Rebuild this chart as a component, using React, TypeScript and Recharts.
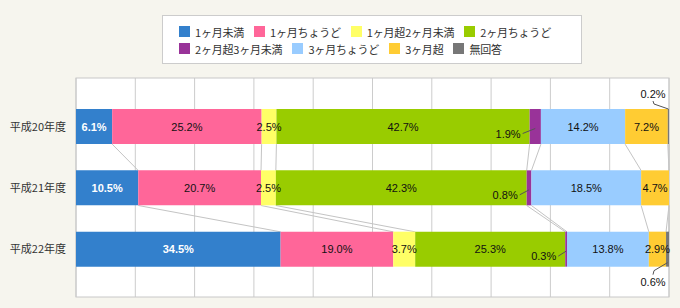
import React from "react";
import {
  BarChart,
  Bar,
  XAxis,
  YAxis,
  CartesianGrid,
  LabelList,
  usePlotArea
} from "recharts";

// 年度
const years = ["平成20年度", "平成21年度", "平成22年度"];

// 系列名
const seriesNames = [
  "1ヶ月未満",
  "1ヶ月ちょうど",
  "1ヶ月超2ヶ月未満",
  "2ヶ月ちょうど",
  "2ヶ月超3ヶ月未満",
  "3ヶ月ちょうど",
  "3ヶ月超",
  "無回答"
];

// 各系列の値 (%)
const under1 = [6.1, 10.5, 34.5];
const just1 = [25.2, 20.7, 19.0];
const over1under2 = [2.5, 2.5, 3.7];
const just2 = [42.7, 42.3, 25.3];
const over2under3 = [1.9, 0.8, 0.3];
const just3 = [14.2, 18.5, 13.8];
const over3 = [7.2, 4.7, 2.9];
const noAnswer = [0.2, 0, 0.6];

const seriesValues = [under1, just1, over1under2, just2, over2under3, just3, over3, noAnswer];
const colors = ["#3380cc", "#ff6699", "#ffff66", "#99cc00", "#993399", "#99ccff", "#ffcc33", "#777777"];

const data = years.map((y, i) => {
  const row: any = { year: y };
  seriesNames.forEach((n, s) => {
    row["s" + s] = seriesValues[s][i];
  });
  return row;
});

const BAR_SIZE = 35;
const PAD_TOP = 18;
const PAD_BOTTOM = 17;
const NUM_FONT = "'Liberation Sans', Arial, sans-serif";
const JP_FONT = "'Noto Sans CJK JP', sans-serif";

function makeLabel(s: number) {
  return (props: any) => {
    const { x, y, width, height, value, index } = props;
    if (!value) return null;
    const text = Number(value).toFixed(1) + "%";
    const cx = x + width / 2;
    const cy = y + height / 2;
    const right = x + width;
    if (s === 4) {
      // 細い紫のセグメント: 左下に引出し線付き
      return (
        <g>
          <line x1={x - 7} y1={cy + 7} x2={cx} y2={cy + 2} stroke="#555" strokeWidth={1} />
          <text x={x - 9} y={cy + 7} textAnchor="end" dominantBaseline="central" fontSize={11} fontFamily={NUM_FONT} fill="#111">
            {text}
          </text>
        </g>
      );
    }
    if (s === 7) {
      if (index === 0) {
        return (
          <g>
            <polyline points={`${right - 16},${y - 8} ${right - 15},${y - 5} ${cx},${y}`} fill="none" stroke="#555" strokeWidth={1} />
            <text x={right - 16} y={y - 15} textAnchor="middle" dominantBaseline="central" fontSize={11} fontFamily={NUM_FONT} fill="#111">
              {text}
            </text>
          </g>
        );
      }
      return (
        <g>
          <polyline points={`${right - 16},${y + height + 8} ${right - 15},${y + height + 4} ${cx},${y + height - 4}`} fill="none" stroke="#555" strokeWidth={1} />
          <text x={right - 16} y={y + height + 15} textAnchor="middle" dominantBaseline="central" fontSize={11} fontFamily={NUM_FONT} fill="#111">
            {text}
          </text>
        </g>
      );
    }
    const white = s === 0;
    return (
      <text
        x={cx}
        y={cy}
        textAnchor="middle"
        dominantBaseline="central"
        fontSize={11}
        fontFamily={NUM_FONT}
        fontWeight={white ? "bold" : "normal"}
        fill={white ? "#fff" : "#111"}
      >
        {text}
      </text>
    );
  };
}

// 区分線と枠
function SeriesLines() {
  const plot: any = usePlotArea();
  if (!plot) return null;
  const k = plot.width / 100;
  const band = (plot.height - PAD_TOP - PAD_BOTTOM) / years.length;
  const top = (i: number) => plot.y + PAD_TOP + i * band + (band - BAR_SIZE) / 2;
  const cum = (i: number, s: number) => {
    let t = 0;
    for (let j = 0; j <= s; j++) t += seriesValues[j][i];
    return Math.min(t, 100);
  };
  const lines: any[] = [];
  for (let i = 0; i < years.length - 1; i++) {
    for (let s = 0; s < seriesNames.length; s++) {
      lines.push(
        <line
          key={i + "-" + s}
          x1={plot.x + cum(i, s) * k}
          y1={top(i) + BAR_SIZE}
          x2={plot.x + cum(i + 1, s) * k}
          y2={top(i + 1)}
          stroke="#c4c4c4"
          strokeWidth={1}
        />
      );
    }
  }
  return (
    <g>
      {lines}
      <rect x={plot.x} y={plot.y} width={plot.width} height={plot.height} fill="none" stroke="#c8c8c8" />
    </g>
  );
}

function Legend() {
  return (
    <div
      style={{
        position: "absolute",
        left: 162,
        top: 15,
        width: 418,
        height: 47,
        border: "1px solid #cccccc",
        background: "#fff",
        fontFamily: JP_FONT,
        fontSize: 11,
        color: "#333"
      }}
    >
      <div style={{ display: "flex", flexWrap: "wrap", paddingLeft: 16, paddingTop: 7, width: 402 }}>
        {seriesNames.map((n, i) => (
          <div key={n} style={{ display: "flex", alignItems: "center", height: 17, marginRight: 10 }}>
            <span style={{ width: 11, height: 11, background: colors[i], display: "inline-block", marginRight: 5 }} />
            <span style={{ letterSpacing: -0.2 }}>{n}</span>
          </div>
        ))}
      </div>
    </div>
  );
}

export default function App() {
  return (
    <div style={{ position: "absolute", left: 0, top: 0, width: 680, height: 308, background: "#f6f5ee" }}>
      <Legend />
      <BarChart
        width={680}
        height={308}
        data={data}
        layout="vertical"
        margin={{ top: 78, right: 11, bottom: 11, left: 0 }}
        style={{ position: "absolute", left: 0, top: 0 }}
      >
        <CartesianGrid horizontal={false} stroke="#cccccc" fill="#ffffff" />
        <XAxis type="number" domain={[0, 100]} ticks={[0, 10, 20, 30, 40, 50, 60, 70, 80, 90, 100]} allowDataOverflow hide />
        <YAxis
          type="category"
          dataKey="year"
          width={76}
          axisLine={false}
          tickLine={false}
          tickSize={8}
          tickMargin={2}
          padding={{ top: PAD_TOP, bottom: PAD_BOTTOM }}
          tick={{ fill: "#333", fontSize: 11, fontFamily: JP_FONT }}
        />
        {seriesNames.map((n, s) => (
          <Bar key={n} dataKey={"s" + s} name={n} stackId="a" fill={colors[s]} barSize={BAR_SIZE} isAnimationActive={false}>
            <LabelList dataKey={"s" + s} content={makeLabel(s)} />
          </Bar>
        ))}
        <SeriesLines />
      </BarChart>
    </div>
  );
}
